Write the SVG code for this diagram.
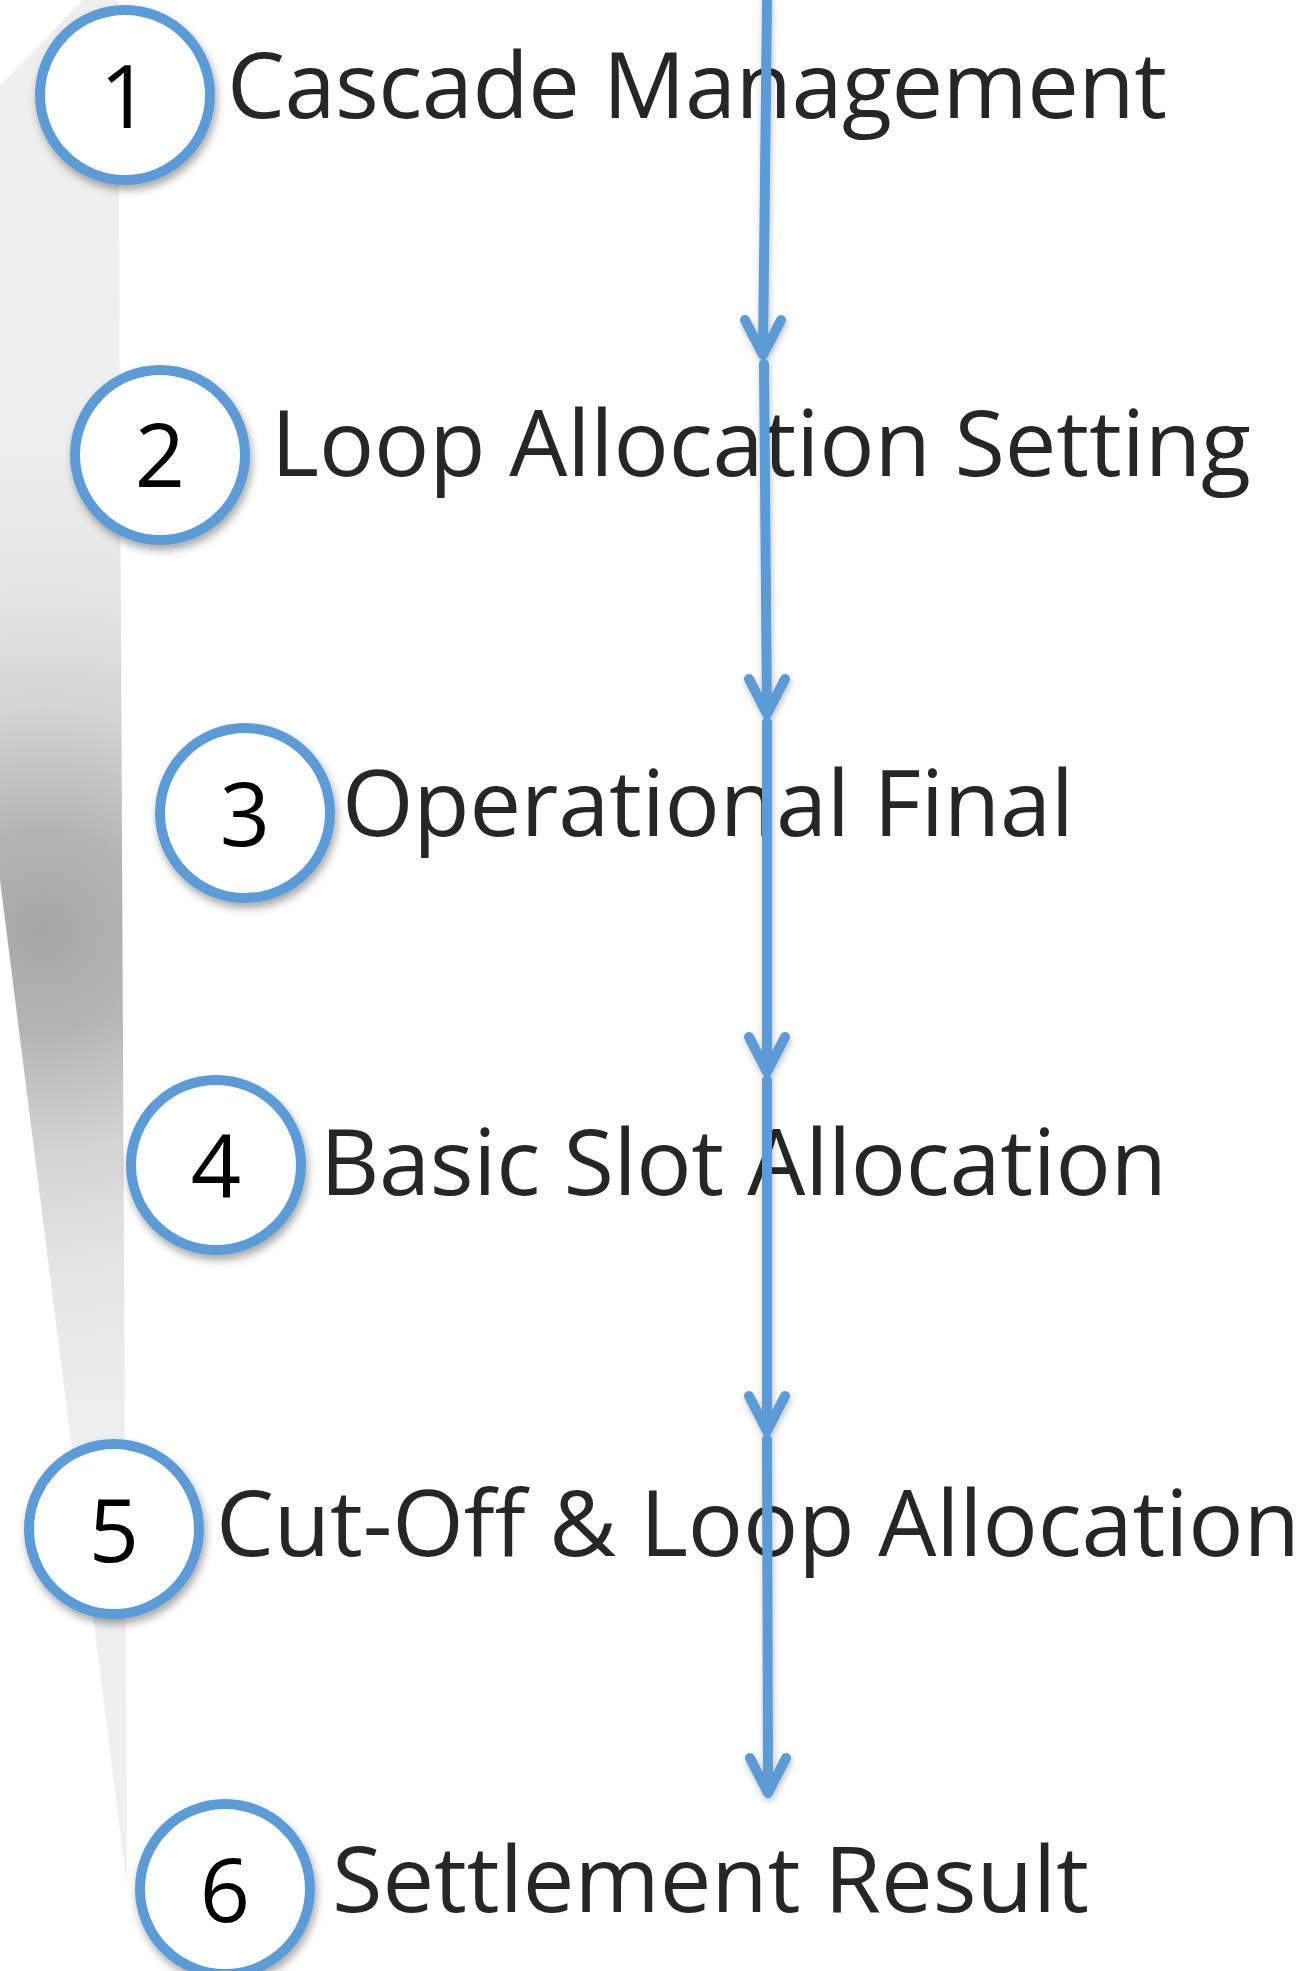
<svg xmlns="http://www.w3.org/2000/svg" width="1301" height="1971" viewBox="0 0 1301 1971">
<defs>
<style>
.ring{fill:#ffffff;stroke:#5b9bd5;stroke-width:10;filter:url(#sh)}
.num{font-family:"Open Sans","Noto Sans",sans-serif;font-size:88px;fill:#000000;text-anchor:middle}
.lbl{font-family:"Open Sans","Noto Sans",sans-serif;font-size:92px;fill:#262626}
.ln{fill:none;stroke:#5b9bd5;stroke-width:10;stroke-linecap:round;stroke-linejoin:round}
</style>
<radialGradient id="bandg" gradientUnits="userSpaceOnUse" cx="43" cy="930" r="500" gradientTransform="translate(43 930) scale(1 1) translate(-43 -930)">
<stop offset="0" stop-color="#a6a6a6"/>
<stop offset="0.2" stop-color="#b4b4b4"/>
<stop offset="0.45" stop-color="#d4d4d4"/>
<stop offset="0.7" stop-color="#e6e6e6"/>
<stop offset="1" stop-color="#efefef"/>
</radialGradient>
<filter id="sh" x="-20%" y="-20%" width="150%" height="150%">
<feDropShadow dx="2" dy="5" stdDeviation="4" flood-color="#000" flood-opacity="0.35"/>
</filter>
<filter id="lsh" x="-200%" y="-5%" width="500%" height="110%">
<feDropShadow dx="1" dy="3" stdDeviation="3" flood-color="#000" flood-opacity="0.25"/>
</filter>
</defs>
<rect width="1301" height="1971" fill="#ffffff"/>
<polygon id="band" points="83,0 118,0 127,1885 0,880 0,85" fill="url(#bandg)"/>

<g id="node1">
<circle class="ring" cx="125" cy="95" r="85"/>
<text class="num" x="125" y="128">1</text>
<text class="lbl" x="227" y="118" textLength="940" lengthAdjust="spacing">Cascade Management</text>
</g>
<g id="node2">
<circle class="ring" cx="160" cy="455" r="85"/>
<text class="num" x="160" y="487">2</text>
<text class="lbl" x="271" y="476" textLength="980" lengthAdjust="spacing">Loop Allocation Setting</text>
</g>
<g id="node3">
<circle class="ring" cx="245" cy="813" r="85"/>
<text class="num" x="245" y="846">3</text>
<text class="lbl" x="342" y="836" textLength="732" lengthAdjust="spacing">Operational Final</text>
</g>
<g id="node4">
<circle class="ring" cx="216" cy="1165" r="85"/>
<text class="num" x="216" y="1198">4</text>
<text class="lbl" x="320" y="1195" textLength="847" lengthAdjust="spacing">Basic Slot Allocation</text>
</g>
<g id="node5">
<circle class="ring" cx="114" cy="1529" r="85"/>
<text class="num" x="114" y="1562">5</text>
<text class="lbl" x="216" y="1556" textLength="1084" lengthAdjust="spacing">Cut-Off &amp; Loop Allocation</text>
</g>
<g id="node6">
<circle class="ring" cx="225" cy="1889" r="85"/>
<text class="num" x="225" y="1922">6</text>
<text class="lbl" x="332" y="1912" textLength="757" lengthAdjust="spacing">Settlement Result</text>
</g>

<g id="connectors" filter="url(#lsh)">
<path class="ln" d="M767,0 L763,354 M745,320 L763,355 L781,320"/>
<path class="ln" d="M764,364 L767,713 M749,679 L767,714 L785,679"/>
<path class="ln" d="M767,722 L767,1071 M749,1037 L767,1072 L785,1037"/>
<path class="ln" d="M767,1080 L767,1430 M749,1396 L767,1431 L785,1396"/>
<path class="ln" d="M767,1439 L768,1792 M750,1758 L768,1793 L786,1758"/>
</g>
</svg>
